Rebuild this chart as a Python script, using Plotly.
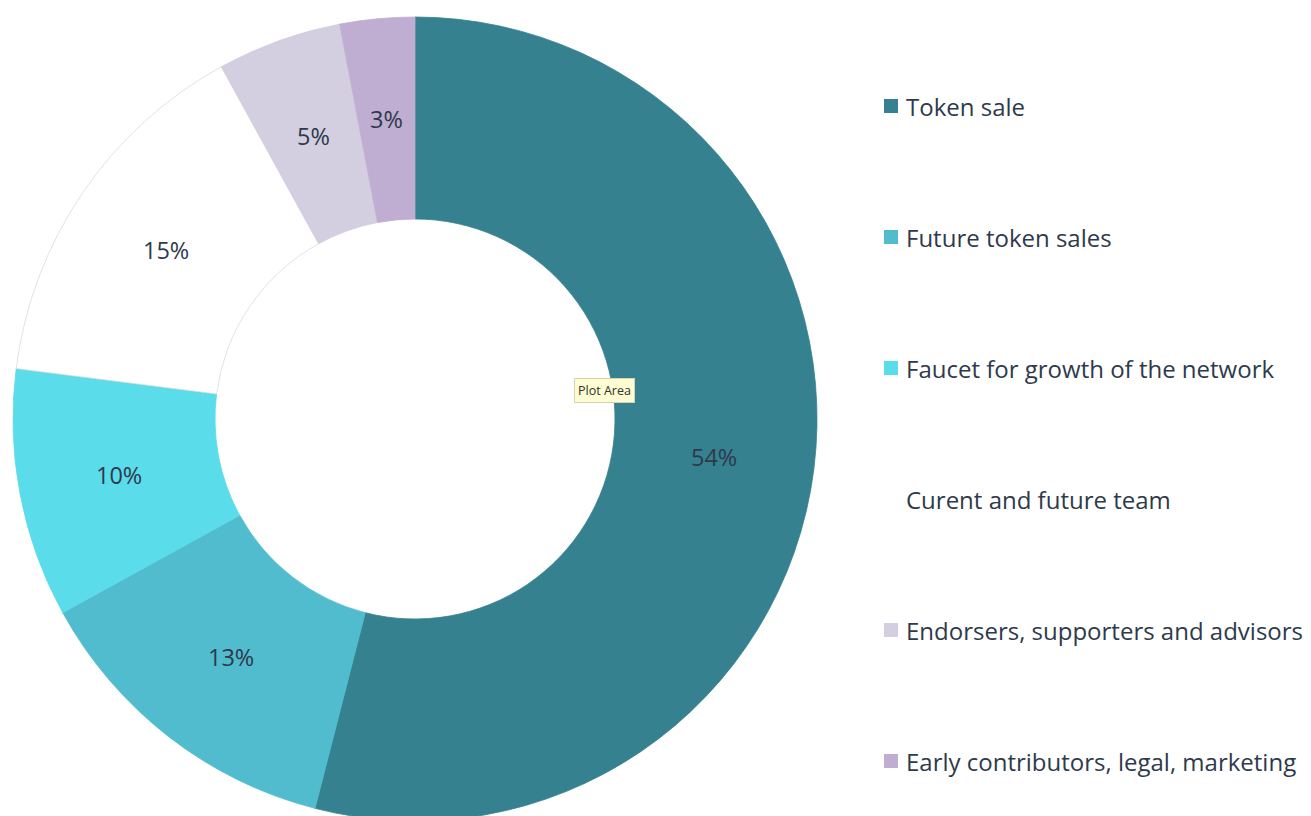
import math
import plotly.graph_objects as go

labels = ["Token sale", "Future token sales", "Faucet for growth of the network",
          "Curent and future team", "Endorsers, supporters and advisors",
          "Early contributors, legal, marketing"]
values = [54, 13, 10, 15, 5, 3]
colors = ["#35818F", "#50BCCD", "#5ADCEA", "#FFFFFF", "#D3CEE0", "#BFAED2"]
edge_colors = ["#35818F", "#50BCCD", "#5ADCEA", "#DADADA", "#D3CEE0", "#BFAED2"]

W, H = 1311, 816
OFF = 8                      # page body margin
cx, cy = 415 - OFF, 419 - OFF
R, r_in = 402, 200
TXT = "#2E3A4B"

fig = go.Figure(go.Pie(
    labels=labels, values=values, sort=False, direction="clockwise", rotation=0,
    hole=r_in / R,
    marker=dict(colors=colors, line=dict(color=edge_colors, width=0.8)),
    textinfo="none",
    domain=dict(x=[(cx - R) / W, (cx + R) / W], y=[1 - (cy + R) / H, 1 - (cy - R) / H]),
    showlegend=False,
))

# percentage labels at the middle of each ring segment
total = sum(values)
cum = 0
r_mid = (R + r_in) / 2
for v in values:
    frac_mid = (cum + v / 2) / total
    cum += v
    th = 2 * math.pi * frac_mid
    x = cx + r_mid * math.sin(th)
    y = cy - r_mid * math.cos(th)
    fig.add_annotation(xref="paper", yref="paper", x=x / W, y=1 - y / H,
                       text=f"{round(100 * v / total)}%", showarrow=False,
                       xanchor="center", yanchor="middle",
                       font=dict(family="Open Sans", size=23.5, color=TXT))

# Custom legend
leg_x0, leg_y0, leg_dy = 884 - OFF, 106 - OFF, 131
for i, (lab, col) in enumerate(zip(labels, colors)):
    yc = leg_y0 + i * leg_dy
    fig.add_shape(type="rect", xref="paper", yref="paper",
                  x0=leg_x0 / W, x1=(leg_x0 + 14) / W,
                  y0=1 - (yc + 7) / H, y1=1 - (yc - 7) / H,
                  fillcolor=col, line=dict(width=0))
    fig.add_annotation(xref="paper", yref="paper", x=(leg_x0 + 20) / W, y=1 - yc / H,
                       text=lab, showarrow=False, xanchor="left", yanchor="middle",
                       font=dict(family="Open Sans", size=24, color=TXT))

# Tooltip artifact
fig.add_annotation(xref="paper", yref="paper", x=(604 - OFF) / W, y=1 - (390 - OFF) / H,
                   text="Plot Area", showarrow=False, xanchor="center", yanchor="middle",
                   bgcolor="#FDFCD2", bordercolor="#D8D6A8", borderwidth=1, borderpad=3,
                   font=dict(family="Open Sans", size=12.5, color="#333333"))

fig.update_layout(width=W, height=H, margin=dict(l=0, r=0, t=0, b=0),
                  paper_bgcolor="white", plot_bgcolor="white")
fig.write_html("out.html")
